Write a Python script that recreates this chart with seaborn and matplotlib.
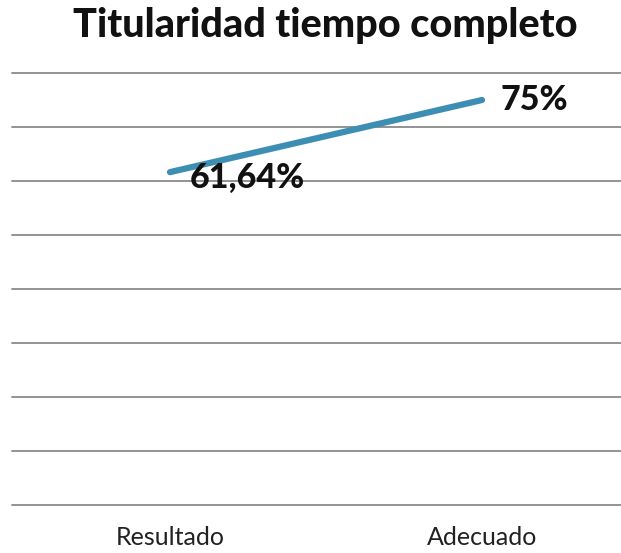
import matplotlib
matplotlib.use("Agg")
import matplotlib.pyplot as plt
import seaborn as sns
import pandas as pd

categories = ["Resultado", "Adecuado"]
values = [61.64, 75]
labels = ["61,64%", "75%"]
yticks = [0, 10, 20, 30, 40, 50, 60, 70, 80]

sns.set_style("white")
plt.rcParams['font.family'] = ['Lato', 'DejaVu Sans']

df = pd.DataFrame({"cat": categories, "val": values, "x": [0, 1]})

fig = plt.figure(figsize=(6.21, 5.53), dpi=100)
ax = fig.add_axes([12/621, 1 - 505/553, 609/621, (505 - 73)/553])

for y in yticks:
    ax.axhline(y, color="#8a8a8a", lw=1.3, zorder=1, clip_on=False)

sns.lineplot(data=df, x="x", y="val", ax=ax, color="#3C8EB2", lw=4.5,
             solid_capstyle="round", zorder=3)

ax.set_xlim(-158/312, 1 + 139/312)
ax.set_ylim(0, 80)
ax.set_xticks([0, 1])
ax.set_xticklabels(categories, fontsize=18, color="#222222")
ax.tick_params(axis="x", length=0, pad=15)
ax.set_yticks([])
ax.set_xlabel("")
ax.set_ylabel("")
for s in ax.spines.values():
    s.set_visible(False)

offsets = [(14, -4), (13, 0)]
for xi, v, lab, off in zip(df["x"], values, labels, offsets):
    ax.annotate(lab, (xi, v), xytext=off, textcoords="offset points",
                ha="left", va="center", fontsize=24.5, fontweight="black",
                color="#111111", zorder=4)

fig.text(325/621, 1 - 26/553, "Titularidad tiempo completo", ha="center",
         va="center", fontsize=28.5, fontweight="black", color="#111111")

fig.savefig("out.png", dpi=100)
